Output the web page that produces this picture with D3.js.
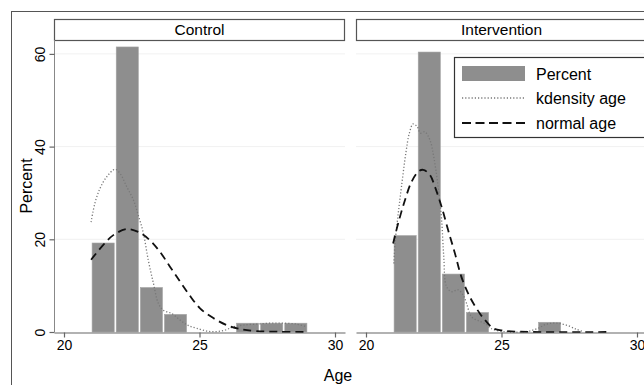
<!DOCTYPE html>
<html>
<head>
<meta charset="utf-8">
<script src="https://cdn.jsdelivr.net/npm/d3@7"></script>
<style>
  body { margin: 0; background: #fff; }
  text { font-family: "Liberation Sans", Arial, Helvetica, sans-serif; fill: #000; }
</style>
</head>
<body>
<svg id="chart" width="644" height="385"></svg>
<script>
/* Data */
var panels = ["Control", "Intervention"];
var binEdges = [21.00, 21.89, 22.78, 23.67, 24.56, 25.44, 26.33, 27.22, 28.11, 29.00];
var controlPct = [19.2, 61.5, 9.6, 3.8, 0, 0, 1.9, 1.9, 1.9];
var interventionPct = [20.8, 60.4, 12.5, 4.2, 0, 0, 2.1, 0, 0];

var controlKdensity = [[21.0,23.7],[21.14,27.8],[21.33,31.0],[21.58,33.5],[21.88,35.1],[22.07,34.2],
  [22.31,31.4],[22.56,28.5],[22.74,25.2],[22.93,21.3],[23.11,15.5],[23.30,10.5],[23.48,6.2],
  [23.66,4.7],[23.97,4.0],[24.28,2.6],[24.55,1.5],[24.9,0.8],[25.39,0.1],[25.88,0.3],[26.25,1.1],
  [26.62,1.5],[27.11,1.7],[27.6,1.9],[28.09,1.9],[28.59,1.7],[28.96,1.1]];
var controlNormal = [[21.0,15.6],[21.45,18.8],[21.82,20.9],[22.31,22.2],[22.74,21.6],[23.17,19.8],
  [23.54,17.3],[23.91,14.1],[24.28,10.9],[24.6,8.2],[25.02,5.1],[25.51,3.0],[26.0,1.5],
  [26.49,0.65],[27.11,0.2],[27.97,0.05],[29.0,0]];
var interventionKdensity = [[21.03,14.8],[21.07,19.1],[21.19,25.6],[21.31,31.4],[21.47,38.6],
  [21.6,42.9],[21.74,44.9],[21.89,44.3],[22.01,42.9],[22.17,43.2],[22.36,41.4],[22.5,37.8],
  [22.66,31.4],[22.79,24.2],[22.87,16.2],[22.97,9.8],[23.16,8.7],[23.4,9.1],[23.58,8.0],
  [23.71,6.2],[23.89,3.3],[24.2,2.3],[24.45,1.6],[24.6,0.8],[25.06,0.1],[25.92,0.1],[26.35,0.8],
  [26.66,1.7],[27.02,1.9],[27.39,1.5],[27.76,0.6],[28.0,0.1]];
var interventionNormal = [[21.0,19.1],[21.19,23.5],[21.44,28.5],[21.68,32.4],[21.93,34.6],
  [22.11,35.0],[22.36,33.9],[22.54,31.4],[22.79,27.0],[23.03,22.0],[23.28,17.0],[23.52,11.9],
  [23.83,7.6],[24.2,4.0],[24.45,2.2],[24.69,0.8],[25.06,0.3],[25.7,0.05],[29.0,0]];

var xTicks = [20, 25, 30];
var yTicks = [0, 20, 40, 60];
var legendLabels = ["Percent", "kdensity age", "normal age"];

var pctSeries = [controlPct, interventionPct];
var kdSeries = [controlKdensity, interventionKdensity];
var nmSeries = [controlNormal, interventionNormal];

/* Layout */
var svg = d3.select("#chart");
var panelLeft = [54, 356], panelW = 291;
var plotTop = 40, plotBottom = 332;
var stripTop = 19;

var y = d3.scaleLinear().domain([0, 63]).range([plotBottom, plotTop]);

// outer frame
svg.append("rect")
  .attr("x", 11.5).attr("y", 11.5).attr("width", 660).attr("height", 400)
  .attr("fill", "none").attr("stroke", "#555").attr("stroke-width", 1);

var line = d3.line()
  .x(function(d) { return d[0]; })
  .y(function(d) { return d[1]; })
  .curve(d3.curveCatmullRom);

panels.forEach(function(name, p) {
  var x0 = panelLeft[p];
  var x = d3.scaleLinear().domain([19.631, 30.369]).range([x0, x0 + panelW]);
  var g = svg.append("g");

  // strip
  g.append("rect")
    .attr("x", x0 + 0.5).attr("y", stripTop + 0.5)
    .attr("width", panelW - 1).attr("height", plotTop - stripTop)
    .attr("fill", "#fff").attr("stroke", "#555").attr("stroke-width", 1.2);
  g.append("text")
    .attr("x", x0 + panelW / 2).attr("y", 35)
    .attr("text-anchor", "middle").attr("font-size", 15.5)
    .text(name);

  // faint grid
  g.selectAll(".grid").data(yTicks.slice(1)).enter().append("line")
    .attr("x1", x0).attr("x2", x0 + panelW)
    .attr("y1", function(d) { return y(d); }).attr("y2", function(d) { return y(d); })
    .attr("stroke", "#f1f1f1").attr("stroke-width", 1);

  // bars
  var pct = pctSeries[p];
  g.selectAll(".bar").data(pct).enter().append("rect")
    .attr("x", function(d, i) { return x(binEdges[i]) + 1; })
    .attr("width", function(d, i) { return x(binEdges[i + 1]) - x(binEdges[i]) - 2; })
    .attr("y", function(d) { return y(d); })
    .attr("height", function(d) { return y(0) - y(d); })
    .attr("fill", "#8e8e8e")
    .attr("stroke", "#a4a4a4").attr("stroke-width", 0.6);

  // kdensity (dotted)
  g.append("path")
    .attr("d", line(kdSeries[p].map(function(d) { return [x(d[0]), y(d[1])]; })))
    .attr("fill", "none").attr("stroke", "#777").attr("stroke-width", 1.3)
    .attr("stroke-dasharray", "1.2,2");

  // normal (dashed)
  g.append("path")
    .attr("d", line(nmSeries[p].map(function(d) { return [x(d[0]), y(d[1])]; })))
    .attr("fill", "none").attr("stroke", "#111").attr("stroke-width", 1.8)
    .attr("stroke-dasharray", "8,5");

  // x axis
  var xAxis = g.append("g")
    .attr("transform", "translate(0," + (plotBottom + 0.5) + ")")
    .call(d3.axisBottom(x).tickValues(xTicks).tickSize(5).tickPadding(3).tickSizeOuter(0));
  xAxis.select(".domain").attr("stroke", "#666").attr("stroke-width", 1.2);
  xAxis.selectAll(".tick line").attr("stroke", "#666").attr("stroke-width", 1.2);
  xAxis.selectAll(".tick text").attr("font-size", 14)
    .attr("font-family", "Liberation Sans, Arial, sans-serif").attr("fill", "#000");

  if (p === 0) {
    var yAxis = g.append("g")
      .attr("transform", "translate(" + (x0 + 0.5) + ",0)")
      .call(d3.axisLeft(y).tickValues(yTicks).tickSize(5).tickPadding(3).tickSizeOuter(0));
    yAxis.select(".domain").attr("stroke", "#888").attr("stroke-width", 1)
      .attr("d", "M0," + plotTop + "V" + plotBottom);
    yAxis.selectAll(".tick line").attr("stroke", "#666").attr("stroke-width", 1.2);
    yAxis.selectAll(".tick text").attr("font-size", 14)
      .attr("font-family", "Liberation Sans, Arial, sans-serif").attr("fill", "#000")
      .attr("text-anchor", "middle")
      .attr("transform", "translate(-14,0) rotate(-90)")
      .attr("x", 0).attr("dy", "0.35em").attr("y", 0);
  }
});

// axis titles
svg.append("text")
  .attr("transform", "translate(32," + ((plotTop + plotBottom) / 2) + ") rotate(-90)")
  .attr("text-anchor", "middle").attr("font-size", 16)
  .text("Percent");
svg.append("text")
  .attr("x", 338).attr("y", 381)
  .attr("text-anchor", "middle").attr("font-size", 16)
  .text("Age");

// legend
var lg = svg.append("g");
lg.append("rect")
  .attr("x", 454.5).attr("y", 57.5).attr("width", 200).attr("height", 80)
  .attr("fill", "#fff").attr("stroke", "#333").attr("stroke-width", 1.2);
var rowY = [74, 98, 123];
lg.append("rect")
  .attr("x", 462).attr("y", rowY[0] - 8).attr("width", 63).attr("height", 15)
  .attr("fill", "#8e8e8e");
lg.append("line")
  .attr("x1", 462).attr("x2", 525).attr("y1", rowY[1]).attr("y2", rowY[1])
  .attr("stroke", "#777").attr("stroke-width", 1.3).attr("stroke-dasharray", "1.2,2");
lg.append("line")
  .attr("x1", 462).attr("x2", 525).attr("y1", rowY[2]).attr("y2", rowY[2])
  .attr("stroke", "#111").attr("stroke-width", 1.8).attr("stroke-dasharray", "9,4.5");
lg.selectAll(".lt").data(legendLabels).enter().append("text")
  .attr("x", 536).attr("y", function(d, i) { return rowY[i]; })
  .attr("dy", "0.35em").attr("font-size", 16)
  .text(function(d) { return d; });
</script>
</body>
</html>
